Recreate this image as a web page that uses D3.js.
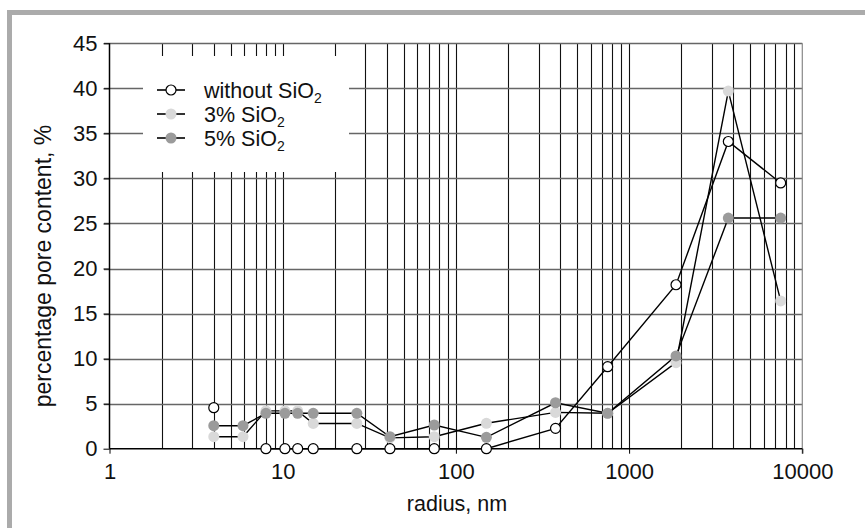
<!DOCTYPE html>
<html>
<head>
<meta charset="utf-8">
<script src="https://cdnjs.cloudflare.com/ajax/libs/d3/7.8.5/d3.min.js"></script>
<style>
  body { margin: 0; background: #fff; }
  text { font-family: "Liberation Sans", Arial, sans-serif; fill: #111; }
</style>
</head>
<body>
<svg id="chart" width="865" height="528"></svg>
<script>
'use strict';

// radius, nm
var radius = [4, 5.9, 8, 10.3, 12.2, 15, 26.8, 41.6, 75, 150, 376, 752, 1866, 3740, 7500];
var noSilica = [4.55, null, 0, 0, 0, 0, 0, 0, 0, 0, 2.26, 9.1, 18.2, 34.1, 29.5];
var silica3 = [1.33, 1.33, 4.2, 4.2, 4.2, 2.8, 2.8, 1.2, 1.33, 2.82, 4.03, 3.93, 9.55, 39.7, 16.4];
var silica5 = [2.55, 2.55, 3.93, 3.93, 3.93, 3.93, 3.93, 1.33, 2.63, 1.26, 5.1, 3.93, 10.3, 25.6, 25.6];
var xTicks = [1, 10, 100, 1000, 10000];
var yTicks = [0, 5, 10, 15, 20, 25, 30, 35, 40, 45];

var series = [
  { name: '3% SiO', values: silica3, fill: '#d9d9d9', stroke: 'none' },
  { name: '5% SiO', values: silica5, fill: '#9b9b9b', stroke: 'none' },
  { name: 'without SiO', values: noSilica, fill: '#fff', stroke: '#000' }
];
var legendOrder = [series[2], series[0], series[1]];

var svg = d3.select('#chart');

// grey frame
svg.append('rect').attr('x', 7).attr('y', 10).attr('width', 858).attr('height', 5).attr('fill', '#ababab');
svg.append('rect').attr('x', 7).attr('y', 10).attr('width', 5).attr('height', 518).attr('fill', '#ababab');

var x = d3.scaleLog().domain([1, 10000]).range([109.5, 802.3]);
var y = d3.scaleLinear().domain([0, 45]).range([448.7, 43.3]);

// minor vertical grid
var minor = [];
for (let d = 1; d < 10000; d *= 10)
  for (let k = 2; k <= 10; k++) minor.push(d * k);
minor = minor.filter(function (v) { return v < 10000; });

svg.append('g').selectAll('line').data(minor).join('line')
  .attr('x1', function (d) { return Math.round(x(d)) + 0.5; })
  .attr('x2', function (d) { return Math.round(x(d)) + 0.5; })
  .attr('y1', y(45)).attr('y2', y(0))
  .attr('stroke', '#111').attr('stroke-width', 1.1);

// horizontal grid with outer ticks
svg.append('g').selectAll('line').data(yTicks.slice(1)).join('line')
  .attr('x1', 104).attr('x2', x(10000))
  .attr('y1', function (d) { return Math.round(y(d)) + 0.5; })
  .attr('y2', function (d) { return Math.round(y(d)) + 0.5; })
  .attr('stroke', '#666').attr('stroke-width', 1.3);

// right border
svg.append('line').attr('x1', x(10000)).attr('x2', x(10000)).attr('y1', y(45)).attr('y2', y(0) + 5)
  .attr('stroke', '#888').attr('stroke-width', 1.2);

// axes
var yAxis = svg.append('g').attr('transform', 'translate(' + x(1) + ',0)')
  .call(d3.axisLeft(y).tickValues(yTicks).tickSize(6).tickPadding(6));
var xAxis = svg.append('g').attr('transform', 'translate(0,' + y(0) + ')')
  .call(d3.axisBottom(x).tickValues(xTicks).tickFormat(d3.format('d')).tickSize(5).tickPadding(10));
[yAxis, xAxis].forEach(function (a) {
  a.select('.domain').attr('stroke', '#000').attr('stroke-width', 1.5);
  a.selectAll('.tick line').attr('stroke', '#000');
  a.selectAll('.tick text').style('font-size', '22px').attr('fill', '#111')
    .style('font-family', '"Liberation Sans", Arial, sans-serif');
});
xAxis.select('.domain').attr('d', 'M' + x(1) + ',0H' + x(10000));
yAxis.select('.domain').attr('d', 'M0,' + y(0) + 'V' + y(45));

// legend box (covers grid)
svg.append('rect').attr('x', 143).attr('y', 56).attr('width', 206).attr('height', 116).attr('fill', '#fff');

// axis titles
svg.append('text').attr('transform', 'translate(51,266) rotate(-90)')
  .attr('text-anchor', 'middle').style('font-size', '23px')
  .text('percentage pore content, %');
svg.append('text').attr('x', 457).attr('y', 511)
  .attr('text-anchor', 'middle').style('font-size', '21.5px')
  .text('radius, nm');

// lines
var line = d3.line()
  .defined(function (d) { return d[1] !== null; })
  .x(function (d) { return x(d[0]); })
  .y(function (d) { return y(d[1]); });

series.forEach(function (s) {
  var pts = radius.map(function (r, i) { return [r, s.values[i]]; });
  svg.append('path').datum(pts).attr('d', line)
    .attr('fill', 'none').attr('stroke', '#000').attr('stroke-width', 1.4);
});

series.forEach(function (s) {
  var pts = radius.map(function (r, i) { return [r, s.values[i]]; })
    .filter(function (d) { return d[1] !== null; });
  svg.append('g').selectAll('circle').data(pts).join('circle')
    .attr('cx', function (d) { return x(d[0]); })
    .attr('cy', function (d) { return y(d[1]); })
    .attr('r', s.stroke === 'none' ? 5.5 : 5)
    .attr('fill', s.fill).attr('stroke', s.stroke).attr('stroke-width', 1.2);
});

// legend entries
var leg = svg.append('g').selectAll('g').data(legendOrder).join('g')
  .attr('transform', function (d, i) { return 'translate(0,' + (90 + i * 24) + ')'; });
leg.append('line').attr('x1', 157).attr('x2', 185).attr('stroke', '#000').attr('stroke-width', 1.6);
leg.append('circle').attr('cx', 171).attr('r', function (d) { return d.stroke === 'none' ? 5.5 : 5; })
  .attr('fill', function (d) { return d.fill; })
  .attr('stroke', function (d) { return d.stroke; }).attr('stroke-width', 1.2);
var lt = leg.append('text').attr('x', 204).attr('y', 8).style('font-size', '21.5px');
lt.append('tspan').text(function (d) { return d.name; });
lt.append('tspan').attr('dy', 5).style('font-size', '14px').text('2');
</script>
</body>
</html>
